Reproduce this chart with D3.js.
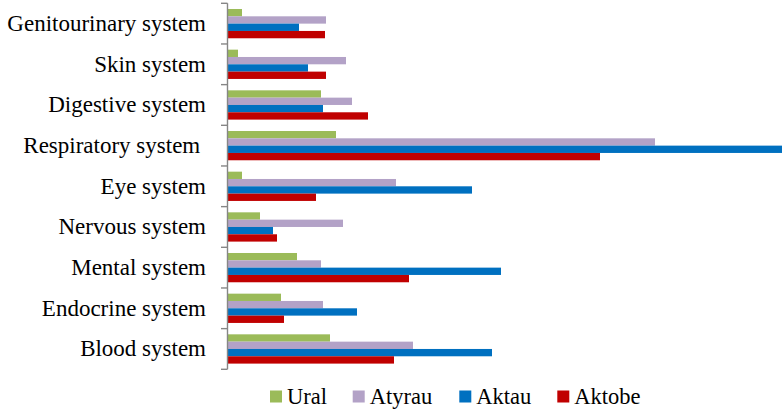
<!DOCTYPE html>
<html>
  <head>
    <meta charset="utf-8">
    <title>systems bar chart</title>
    <script type="text/javascript" src="https://d3js.org/d3.v7.min.js"></script>
    <style type="text/css">
      body { margin: 0; background: #fff; }
    </style>
  </head>
  <body>
    <script type="text/javascript">
      // SVG size
      var w = 782;
      var h = 409;
      var fontFamily = "'Liberation Serif', 'Times New Roman', Times, 'DejaVu Serif', serif";

      // categories, top to bottom ("Respiratory system " keeps its trailing space)
      var categories = ["Genitourinary system", "Skin system", "Digestive system", "Respiratory system ",
                        "Eye system", "Nervous system", "Mental system", "Endocrine system", "Blood system"];
      var seriesNames = ["Ural", "Atyrau", "Aktau", "Aktobe"];
      var colors = ["#9BBB59", "#B3A2C7", "#0070C0", "#C00000"];

      // values per series, same order as categories
      var ural   = [14, 10, 93, 108, 14, 32, 69, 53, 102];
      var atyrau = [98, 118, 124, 427, 168, 115, 93, 95, 185];
      var aktau  = [71, 80, 95, 580, 244, 45, 273, 129, 264];
      var aktobe = [97, 98, 140, 372, 88, 49, 181, 56, 166];
      var seriesValues = [ural, atyrau, aktau, aktobe];

      var svg = d3.select("body")
                  .append("svg")
                  .attr("width", w)
                  .attr("height", h)
                  .attr("font-family", fontFamily);

      var x = d3.scaleLinear().domain([0, 554]).range([228, 782]);

      var y = d3.scaleBand()
                .domain(categories)
                .range([3.3, 369.3])
                .paddingInner(0.28)
                .paddingOuter(0.14);

      var ySub = d3.scaleBand()
                   .domain(seriesNames)
                   .range([0, y.bandwidth()]);

      // bars
      var groups = svg.selectAll("g.series")
                      .data(seriesNames)
                      .enter()
                      .append("g")
                      .attr("class", "series")
                      .attr("fill", function(d, i) { return colors[i]; });

      groups.selectAll("rect")
            .data(function(d, i) {
                return categories.map(function(c, j) { return {cat: c, s: d, v: seriesValues[i][j]}; });
            })
            .enter()
            .append("rect")
            .attr("x", x(0))
            .attr("y", function(d) { return y(d.cat) + ySub(d.s); })
            .attr("width", function(d) { return x(d.v) - x(0); })
            .attr("height", ySub.bandwidth());

      // vertical axis with ticks between categories
      var step = y.step();
      var tickYs = d3.range(categories.length + 1).map(function(i) { return 3.3 + i * step; });
      var axis = svg.append("g").attr("stroke", "#868686").attr("stroke-width", 1.4);
      axis.append("line")
          .attr("x1", 227.5).attr("x2", 227.5)
          .attr("y1", 3.3).attr("y2", 369.3);
      axis.selectAll("line.tick")
          .data(tickYs)
          .enter()
          .append("line")
          .attr("class", "tick")
          .attr("x1", 221).attr("x2", 227.5)
          .attr("y1", function(d) { return d; })
          .attr("y2", function(d) { return d; });

      // category labels
      svg.selectAll("text.cat")
         .data(categories)
         .enter()
         .append("text")
         .attr("class", "cat")
         .attr("x", 206)
         .attr("y", function(d) { return y(d) + y.bandwidth() / 2; })
         .attr("dy", "0.32em")
         .attr("text-anchor", "end")
         .style("white-space", "pre")
         .attr("font-family", fontFamily)
         .attr("font-size", "23px")
         .attr("fill", "#000")
         .text(function(d) { return d; });

      // legend
      var legendX = [270, 352.7, 459.3, 557.3];
      var legend = svg.selectAll("g.legend")
                      .data(seriesNames)
                      .enter()
                      .append("g")
                      .attr("class", "legend")
                      .attr("transform", function(d, i) { return "translate(" + legendX[i] + ",0)"; });
      legend.append("rect")
            .attr("x", 0)
            .attr("y", 390.5)
            .attr("width", 12)
            .attr("height", 12)
            .attr("fill", function(d, i) { return colors[i]; });
      legend.append("text")
            .attr("x", 17)
            .attr("y", 403.5)
            .attr("font-family", fontFamily)
            .attr("font-size", "22.5px")
            .attr("fill", "#000")
            .text(function(d) { return d; });
    </script>
  </body>
</html>
